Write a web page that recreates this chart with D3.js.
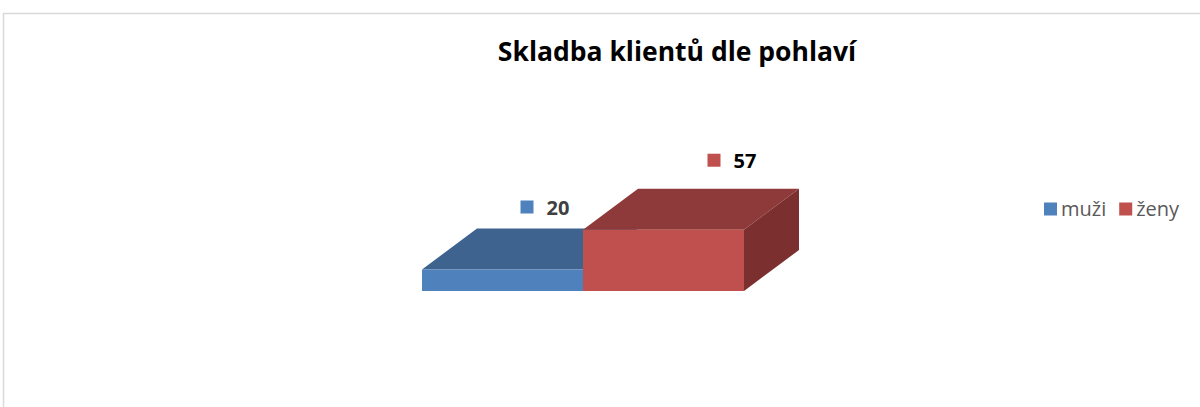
<!doctype html>
<html>
<head>
<meta charset="utf-8">
<title>Skladba klientů dle pohlaví</title>
<script src="https://d3js.org/d3.v7.min.js"></script>
<style>
  body { margin: 0; background: #fff; }
  svg { display: block; }
  .title { font: bold 26.5px "Open Sans", Lato, sans-serif; fill: #000; }
  .lbl { font: bold 20px "Open Sans", Lato, sans-serif; }
  .legend text { font: 20px "Open Sans", Lato, sans-serif; fill: #595959; }
</style>
</head>
<body>
<script>
// data
var categories = ["muži", "ženy"];
var values = [20, 57];
var frontColors = ["#4f81bd", "#c0504d"];
var topColors = ["#3e638f", "#8f3a3a"];
var sideColors = ["#33527a", "#7b2f2e"];
var labelColors = ["#404040", "#000000"];

var width = 1200, height = 407;
var depthX = 55, depthY = -41;

var svg = d3.select("body").append("svg")
    .attr("width", width)
    .attr("height", height);

// chart area border
svg.append("rect")
    .attr("x", 3.5).attr("y", 13.5)
    .attr("width", width + 10).attr("height", height + 10)
    .attr("fill", "none")
    .attr("stroke", "#d9d9d9")
    .attr("stroke-width", 1.5);

svg.append("text")
    .attr("class", "title")
    .attr("x", 677).attr("y", 61)
    .attr("text-anchor", "middle")
    .text("Skladba klientů dle pohlaví");

var x = d3.scaleBand()
    .domain(categories)
    .range([422, 744])
    .padding(0);
var y = d3.scaleLinear()
    .domain([0, 60])
    .range([291, 226.5]);

var bw = x.bandwidth();

function pts(arr) { return arr.map(function(p) { return p.join(","); }).join(" "); }

categories.forEach(function(c, i) {
  var x0 = x(c), x1 = x0 + bw, yt = y(values[i]), yb = y(0);
  var g = svg.append("g");
  // top face
  g.append("polygon")
      .attr("points", pts([[x0, yt], [x0 + depthX, yt + depthY], [x1 + depthX, yt + depthY], [x1, yt]]))
      .attr("fill", topColors[i]);
  // side face only visible on the last bar
  if (i === categories.length - 1) {
    g.append("polygon")
        .attr("points", pts([[x1, yt], [x1 + depthX, yt + depthY], [x1 + depthX, yb + depthY], [x1, yb]]))
        .attr("fill", sideColors[i]);
  }
  // front face
  g.append("rect")
      .attr("x", x0).attr("y", yt)
      .attr("width", bw).attr("height", yb - yt)
      .attr("fill", frontColors[i]);
});

// data labels with legend key
var labelShift = [-12, 14];
var labelDy = [-21.5, -28.5];
categories.forEach(function(c, i) {
  var cx = x(c) + bw / 2 + depthX + labelShift[i];
  var cy = y(values[i]) + depthY + labelDy[i];
  var g = svg.append("g").attr("transform", "translate(" + (cx - 25) + "," + cy + ")");
  g.append("rect")
      .attr("x", 0).attr("y", -6.5)
      .attr("width", 13).attr("height", 13)
      .attr("fill", frontColors[i]);
  g.append("text")
      .attr("class", "lbl")
      .attr("x", 26).attr("y", 7.5)
      .attr("fill", labelColors[i])
      .text(values[i]);
});

// legend
var legend = svg.append("g").attr("class", "legend")
    .attr("transform", "translate(1044,209)");
var lx = 0;
categories.forEach(function(c, i) {
  legend.append("rect")
      .attr("x", lx).attr("y", -6.5)
      .attr("width", 13).attr("height", 13)
      .attr("fill", frontColors[i]);
  var t = legend.append("text")
      .attr("x", lx + 17).attr("y", 6.5)
      .text(c);
  lx += 17 + t.node().getComputedTextLength() + 13;
});
</script>
</body>
</html>
